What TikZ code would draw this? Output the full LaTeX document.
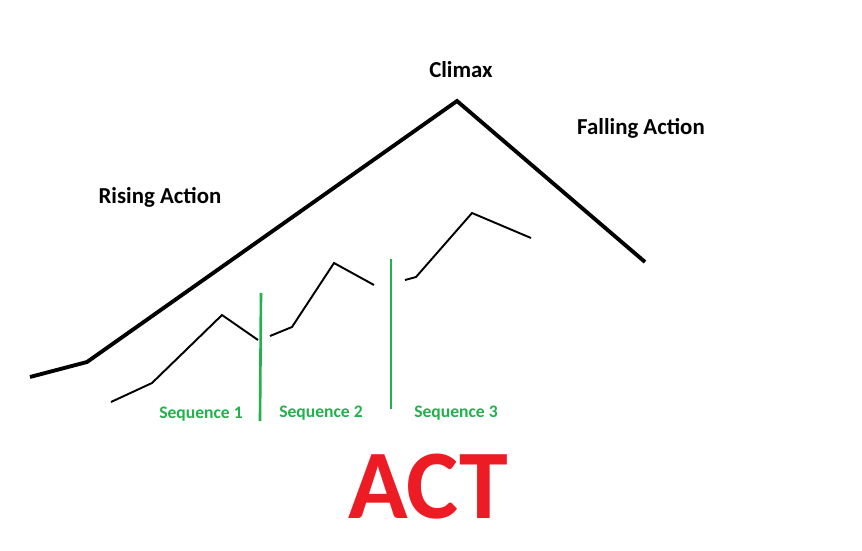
\documentclass[tikz,border=0pt]{standalone}
\usepackage{fontspec}
\setmainfont{Carlito}
\definecolor{pgreen}{RGB}{34,177,76}
\definecolor{pred}{RGB}{237,28,36}
\begin{document}
\begin{tikzpicture}[x=0.02cm,y=-0.02cm,
  lbl/.style={font=\bfseries\fontsize{13}{15}\selectfont,inner sep=0},
  seq/.style={font=\bfseries\fontsize{10}{12}\selectfont,text=pgreen,inner sep=0},
  main/.style={line width=2.2pt,line join=miter},
  sub/.style={line width=1.1pt},
  div/.style={pgreen,line width=1.5pt}]
\useasboundingbox[fill=white] (0,0) rectangle (862,551);
\coordinate (m1) at (30,377); \coordinate (m2) at (87,362);
\coordinate (m3) at (457,101); \coordinate (m4) at (645,262);
\draw[main] (m1)--(m2)--(m3)--(m4);
\draw[sub] (111,402)--(152,383)--(222,315)--(258,340);
\draw[sub] (270,336)--(292,327)--(334,263)--(374,285);
\draw[sub] (405,280)--(416,277)--(472,213)--(531,238);
\coordinate (g1a) at (261,293); \coordinate (g1b) at (260,421);
\coordinate (g2a) at (391,259); \coordinate (g2b) at (391,409);
\draw[div] (g1a)--(g1b);
\draw[div] (g2a)--(g2b);
\node[lbl] (climax) at (461,70) {Climax};
\node[lbl] (fall) at (641,128) {Falling Action};
\node[lbl] (rise) at (160,197) {Rising Action};
\node[seq] (s1) at (201,414) {Sequence 1};
\node[seq] (s2) at (321,413) {Sequence 2};
\node[seq] (s3) at (456,413) {Sequence 3};
\node[font=\bfseries\fontsize{56}{60}\selectfont,text=pred,inner sep=0] (act) at (428,487) {ACT};
\end{tikzpicture}
\end{document}
